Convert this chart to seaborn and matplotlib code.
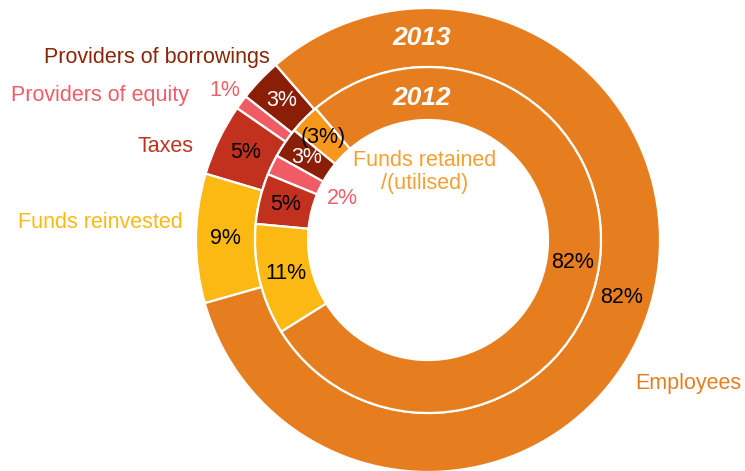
import matplotlib
matplotlib.use("Agg")
import matplotlib.pyplot as plt
import seaborn as sns
import numpy as np

# Value added distribution, in percent
categories = ["Funds retained /(utilised)", "Providers of borrowings", "Providers of equity",
              "Taxes", "Funds reinvested", "Employees"]
share_2013 = [0, 3, 1, 5, 9, 82]
share_2012 = [-3, 3, 2, 5, 11, 82]
years = ["2013", "2012"]

palette = sns.color_palette(["#F7981D", "#8A1E06", "#EF5C66", "#C1311E", "#FDB913", "#E67E1F"])
text_colours = ["#F5A033", "#8B2508", "#EE5E68", "#BF3420", "#FDB913", "#E67E22"]
value_colours = ["black", "white", "black", "black", "black", "black"]

sns.set_theme(style="white")
plt.rcParams["font.family"] = ["Liberation Sans", "DejaVu Sans"]

W, H = 745, 471
fig = plt.figure(figsize=(W / 100, H / 100), dpi=100)
ax = fig.add_axes([0, 0, 1, 1])

cx, cy = 428, H - 240
R_OUT, R_MID, R_IN = 232, 173, 120


def ring(values, radius, width, start):
    idx = [i for i, v in enumerate(values) if v != 0]
    sizes = [abs(values[i]) for i in idx]
    wedges, _ = ax.pie(sizes, radius=radius, center=(cx, cy), startangle=start,
                       counterclock=True, colors=[palette[i] for i in idx],
                       wedgeprops=dict(width=width, edgecolor="white", linewidth=1.6))
    return dict(zip(idx, wedges))


outer = ring(share_2013, R_OUT, R_OUT - R_MID, 131)
inner = ring(share_2012, R_MID, R_MID - R_IN, 130.5)


def label(wedges, values, r_mid, outside=None):
    outside = outside or {}
    for i, w in wedges.items():
        v = values[i]
        txt = f"({abs(v)}%)" if v < 0 else f"{v}%"
        ang = np.deg2rad((w.theta1 + w.theta2) / 2)
        r = outside.get(i, r_mid)
        col = text_colours[i] if i in outside else value_colours[i]
        ax.text(cx + r * np.cos(ang), cy + r * np.sin(ang), txt, ha="center", va="center",
                fontsize=15.5, color=col)


label(outer, share_2013, (R_OUT + R_MID) / 2, outside={2: 252})
label(inner, share_2012, (R_MID + R_IN) / 2, outside={2: 95})

# Year captions on top of each ring
ax.text(422, H - 38, years[0], ha="center", va="center", fontsize=19, color="white",
        fontweight="bold", fontstyle="italic")
ax.text(422, H - 98, years[1], ha="center", va="center", fontsize=19, color="white",
        fontweight="bold", fontstyle="italic")

# Category names
ax.text(270, H - 58, categories[1], ha="right", va="center", fontsize=15.5, color=text_colours[1])
ax.text(189, H - 95, categories[2], ha="right", va="center", fontsize=15.5, color=text_colours[2])
ax.text(193, H - 147, categories[3], ha="right", va="center", fontsize=15.5, color=text_colours[3])
ax.text(183, H - 223, categories[4], ha="right", va="center", fontsize=15.5, color=text_colours[4])
ax.text(425, H - 172, "Funds retained\n/(utilised)", ha="center", va="center", fontsize=15.5,
        color=text_colours[0], linespacing=1.15)
ax.text(635, H - 383, categories[5], ha="left", va="center", fontsize=15.5, color=text_colours[5])

ax.set_xlim(0, W)
ax.set_ylim(0, H)
ax.set_aspect("equal")
ax.axis("off")

fig.savefig("out.png", dpi=100)
